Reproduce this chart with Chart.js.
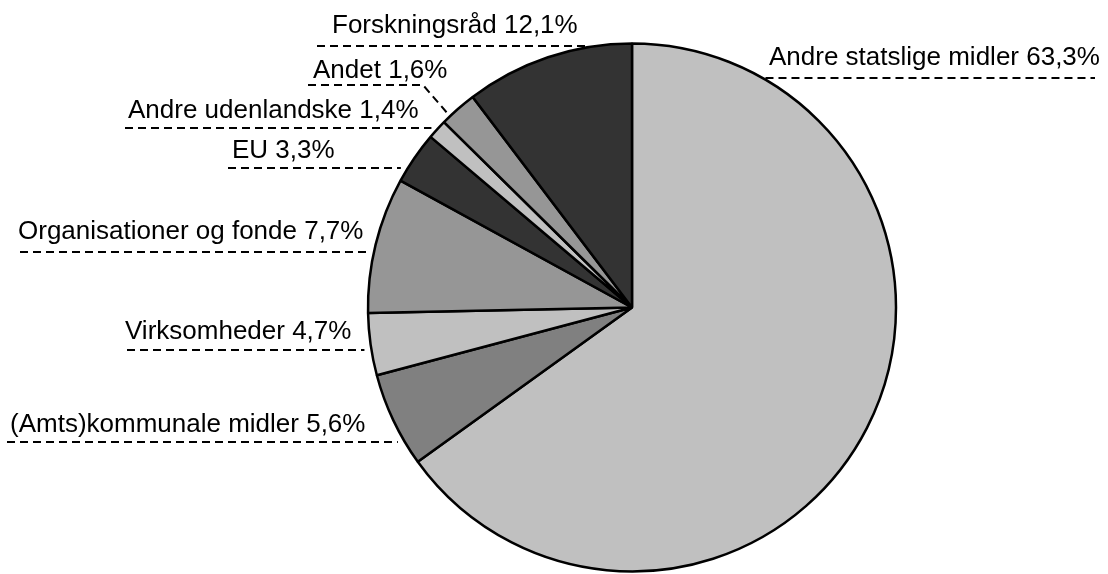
<!DOCTYPE html>
<html>
<head>
<meta charset="utf-8">
<script src="https://cdn.jsdelivr.net/npm/chart.js@4.4.1/dist/chart.umd.min.js"></script>
<style>
    html, body { margin: 0; padding: 0; background: #fff; overflow: hidden; }
    canvas { display: block; }
</style>
</head>
<body>
<canvas id="pieChart" width="1108" height="574"></canvas>
<script>
// ===== DATA =====
const categories = [
    'Andre statslige midler',
    '(Amts)kommunale midler',
    'Virksomheder',
    'Organisationer og fonde',
    'EU',
    'Andre udenlandske',
    'Andet',
    'Forskningsråd'
];
// percentages as printed in the labels
const labelPercents = ['63,3', '5,6', '4,7', '7,7', '3,3', '1,4', '1,6', '12,1'];
const sliceValues = [65.0, 5.8, 3.8, 8.3, 3.2, 1.2, 2.3, 10.3];
const sliceColors = ['#c0c0c0', '#808080', '#c0c0c0', '#969696', '#333333', '#c0c0c0', '#969696', '#333333'];

// label placement: text left x, baseline, underline y, underline outer end
const labelLayout = [
    { side: 'right', textX: 769, base: 65, ul: 78, ulOuter: 1095 },
    { side: 'left', textX: 10, base: 432, ul: 442, ulOuter: 7 },
    { side: 'left', textX: 125, base: 339, ul: 350, ulOuter: 127 },
    { side: 'left', textX: 18, base: 239, ul: 252, ulOuter: 20 },
    { side: 'left', textX: 232, base: 158, ul: 168, ulOuter: 228 },
    { side: 'left', textX: 128, base: 118, ul: 128, ulOuter: 125 },
    { side: 'left', textX: 313, base: 78, ul: 85, ulOuter: 308, elbow: 423, leaderAt: 0.22 },
    { side: 'left', textX: 332, base: 33, ul: 46, ulOuter: 317 }
];

// Labels with dashed underlines running to the rim
const leaderLabels = {
    id: 'leaderLabels',
    afterDatasetsDraw(chart) {
        const ctx = chart.ctx;
        const arcs = chart.getDatasetMeta(0).data;
        ctx.save();
        ctx.font = '26px "Liberation Sans", Arial, sans-serif';
        ctx.fillStyle = '#000';
        ctx.strokeStyle = '#000';
        ctx.lineWidth = 2;
        ctx.setLineDash([8, 5]);

        arcs.forEach((arc, i) => {
            const p = arc.getProps(['x', 'y', 'outerRadius', 'startAngle', 'endAngle'], true);
            const lay = labelLayout[i];
            const dy = lay.ul - p.y;
            const half = Math.sqrt(Math.max(p.outerRadius * p.outerRadius - dy * dy, 0));

            ctx.beginPath();
            if (lay.side === 'right') {
                ctx.moveTo(p.x + half + 3, lay.ul);
                ctx.lineTo(lay.ulOuter, lay.ul);
            } else if (lay.elbow) {
                // dashed leader from the underline down to the slice edge
                const a = p.startAngle + (p.endAngle - p.startAngle) * lay.leaderAt;
                ctx.moveTo(lay.ulOuter, lay.ul);
                ctx.lineTo(lay.elbow, lay.ul);
                ctx.lineTo(p.x + Math.cos(a) * p.outerRadius, p.y + Math.sin(a) * p.outerRadius);
            } else {
                ctx.moveTo(lay.ulOuter, lay.ul);
                ctx.lineTo(p.x - half - 7, lay.ul);
            }
            ctx.stroke();

            ctx.textAlign = 'left';
            ctx.textBaseline = 'alphabetic';
            ctx.fillText(categories[i] + ' ' + labelPercents[i] + '%', lay.textX, lay.base);
        });
        ctx.restore();
    }
};

new Chart(document.getElementById('pieChart'), {
    type: 'pie',
    data: {
        labels: categories,
        datasets: [{
            data: sliceValues,
            backgroundColor: sliceColors,
            borderColor: '#000',
            borderWidth: 2.5,
            radius: 264
        }]
    },
    options: {
        responsive: false,
        animation: false,
        devicePixelRatio: 1,
        layout: { padding: { left: 156, top: 41, right: 0, bottom: 0 } },
        plugins: {
            legend: { display: false },
            tooltip: { enabled: false }
        }
    },
    plugins: [leaderLabels]
});
</script>
</body>
</html>
